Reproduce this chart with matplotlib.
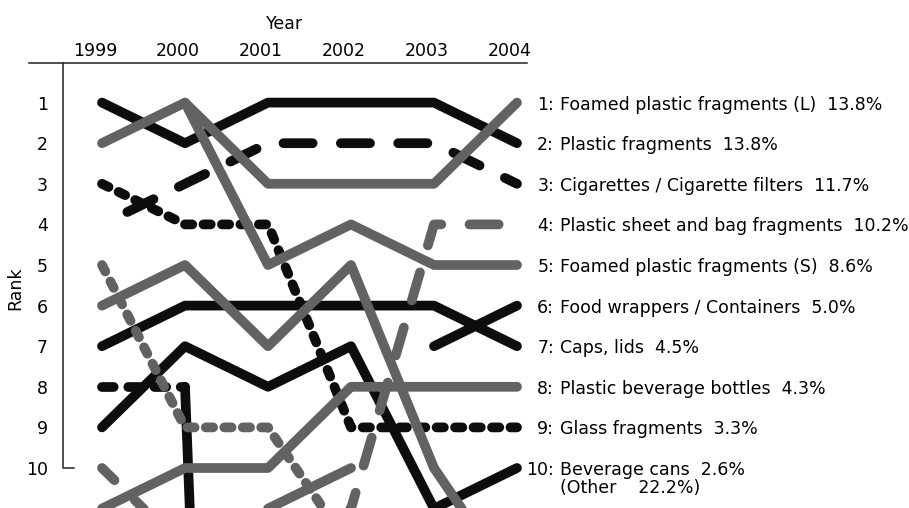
import numpy as np
import matplotlib.pyplot as plt

plt.rcParams['font.family'] = ['DejaVu Sans']

nan = np.nan
years = [1999, 2000, 2001, 2002, 2003, 2004]

# ranks per year (values beyond 10 run off the bottom of the chart)
foamed_l = [2, 1, 3, 3, 3, 1]
plastic_frag = [1, 2, 1, 1, 1, 2]
cigarettes = [4, 3, 2, 2, 2, 3]
sheet_bag = [10, 12, 12, 11, 4, 4]
foamed_s = [nan, 1, 5, 4, 5, 5]
food_wrap = [nan, nan, nan, nan, 7, 6]
caps_lids = [7, 6, 6, 6, 6, 7]
pet_bottles = [11, 10, 10, 8, 8, 8]
glass = [3, 4, 4, 9, 9, 9]
cans = [9, 7, 8, 7, 11, 10]
# items that dropped out of the top 10
gray_out = [6, 5, 7, 5, 10, 13]
gray_dash_out = [5, 9, 9, 12, nan, nan]
gray_short = [nan, nan, 11, 10, nan, nan]
black_dash_out = [8, 8, 60, nan, nan, nan]

names = ["Foamed plastic fragments (L)", "Plastic fragments",
         "Cigarettes / Cigarette filters", "Plastic sheet and bag fragments",
         "Foamed plastic fragments (S)", "Food wrappers / Containers",
         "Caps, lids", "Plastic beverage bottles", "Glass fragments",
         "Beverage cans"]
pcts = ["13.8%", "13.8%", "11.7%", "10.2%", "8.6%", "5.0%", "4.5%",
        "4.3%", "3.3%", "2.6%"]
other_pct = "22.2%"

BLACK = '#0d0d0d'
GRAY = '#626262'
LW = 7
FS = 12.5
long_dash = (3.0, (3.0, 2.9))
sheet_dash = (1.2, (3.0, 2.9))
short_dash = (0, (0.75, 1.15))
mid_dash = (0, (1.2, 1.5))

fig = plt.figure(figsize=(9.09, 5.08), dpi=100)
ax = fig.add_axes([62.7 / 909, 0, (527 - 62.7) / 909, (508 - 63.3) / 508])


def draw(xs, vals, col, ls):
    ax.plot(xs, vals, color=col, lw=LW, linestyle=ls,
            solid_capstyle='round', dash_capstyle='round',
            solid_joinstyle='round', dash_joinstyle='round')


draw(years, plastic_frag, BLACK, '-')
draw(years, caps_lids, BLACK, '-')
draw(years, food_wrap, BLACK, '-')
draw(years, cans, BLACK, '-')
draw(years, cigarettes, BLACK, long_dash)
draw(years, glass, BLACK, short_dash)
# dashed while in the chart, then a solid drop off the bottom
draw(years[:2], black_dash_out[:2], BLACK, mid_dash)
draw(years[1:], black_dash_out[1:], BLACK, '-')
draw(years, foamed_l, GRAY, '-')
draw(years, foamed_s, GRAY, '-')
draw(years, pet_bottles, GRAY, '-')
draw(years, gray_out, GRAY, '-')
draw(years, gray_short, GRAY, '-')
draw(years, sheet_bag, GRAY, sheet_dash)
draw(years, gray_dash_out, GRAY, short_dash)

ax.set_xlim(1999 - (102 - 62.7) / 83, 1999 + (527 - 102) / 83)
ax.set_ylim(1 + (508 - 102.6) / 40.6, 1 - (102.6 - 63.3) / 40.6)

for s in ax.spines.values():
    s.set_visible(False)
ax.set_xticks([])
ax.set_yticks(range(1, 11))
ax.set_yticklabels([str(r) for r in range(1, 11)], fontsize=FS)
ax.tick_params(axis='y', length=0, pad=10.6)

# axis frame: rule along the top, left line ending in a foot at rank 10
ax.plot([-0.0726, 1.0], [1, 1], color='#222222', lw=1.1,
        transform=ax.transAxes, clip_on=False)
yt = ax.get_yaxis_transform()
ax.plot([0, 0, 0.0243], [ax.get_ylim()[1], 10, 10], color='#222222',
        lw=1.1, transform=yt, clip_on=False)

# year labels on top
for yr in years:
    ax.annotate(str(yr), xy=(yr, 1), xycoords=('data', 'axes fraction'),
                xytext=(-5, 10), textcoords='offset points',
                ha='center', va='center_baseline', fontsize=FS)

fig.text(285 / 909, 1 - 24 / 508, 'Year', ha='center', va='center',
         fontsize=FS)
fig.text(15.5 / 909, 1 - 288 / 508, 'Rank', ha='center', va='center',
         rotation=90, fontsize=FS)

# right-hand labels
for i, (nm, pc) in enumerate(zip(names, pcts)):
    r = i + 1
    ax.annotate(f"{r}:", xy=(2004, r), xytext=(26.6, 0),
                textcoords='offset points', ha='right',
                va='center_baseline', fontsize=FS, annotation_clip=False)
    ax.annotate(f"{nm}  {pc}", xy=(2004, r), xytext=(31, 0),
                textcoords='offset points', ha='left',
                va='center_baseline', fontsize=FS, annotation_clip=False)
ax.annotate(f"(Other    {other_pct})", xy=(2004, 10.45), xytext=(31, 0),
            textcoords='offset points', ha='left', va='center_baseline',
            fontsize=FS, annotation_clip=False)

fig.savefig('out.png', dpi=100)
